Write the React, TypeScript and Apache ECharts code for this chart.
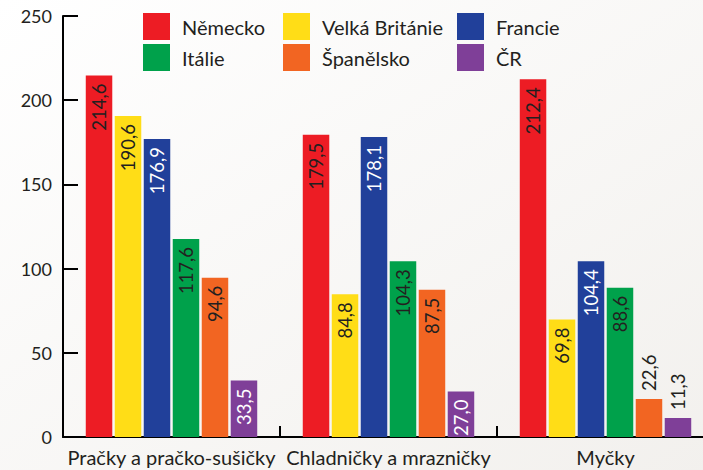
import React, { useEffect, useRef } from "react";
import * as echarts from "echarts";

const categories = ["Pračky a pračko-sušičky", "Chladničky a mrazničky", "Myčky"];
const countries = ["Německo", "Velká Británie", "Francie", "Itálie", "Španělsko", "ČR"];
const colors = ["#ED1C24", "#FFDD17", "#21409A", "#00A14B", "#F26522", "#7F3F98"];
const labelColors = ["#231F20", "#231F20", "#FFFFFF", "#231F20", "#231F20", "#FFFFFF"];
const values: number[][] = [
  [214.6, 179.5, 212.4],
  [190.6, 84.8, 69.8],
  [176.9, 178.1, 104.4],
  [117.6, 104.3, 88.6],
  [94.6, 87.5, 22.6],
  [33.5, 27.0, 11.3],
];
const yTicks = [0, 50, 100, 150, 200, 250];

const FONT = "Lato";

export default function App() {
  const ref = useRef<HTMLDivElement>(null);
  useEffect(() => {
    if (!ref.current) return;
    const chart = echarts.init(ref.current, null, { renderer: "svg" });
    const fmt = (v: number) => v.toFixed(1).replace(".", ",");
    const series = countries.map((name, i) => ({
      name,
      type: "bar",
      barWidth: 26.5,
      barGap: "9.4%",
      itemStyle: { color: colors[i] },
      label: {
        show: true,
        position: "insideTop",
        rotate: 90,
        align: "right",
        verticalAlign: "middle",
        distance: 8,
        fontFamily: FONT,
        fontSize: 18.5,
        color: labelColors[i],
        formatter: (p: any) => fmt(p.value),
      },
      data: values[i].map((v) =>
        v < 25
          ? {
              value: v,
              label: {
                position: "top",
                align: "left",
                verticalAlign: "middle",
                distance: 8,
                color: "#231F20",
              },
            }
          : v
      ),
    }));
    const legendCol = (left: number, names: string[]) => ({
      left,
      top: 13,
      orient: "vertical",
      icon: "rect",
      itemWidth: 27,
      itemHeight: 27,
      itemGap: 4,
      padding: 0,
      selectedMode: false,
      data: names,
      textStyle: { fontFamily: FONT, fontSize: 20, color: "#231F20", padding: [0, 0, 0, 7] },
    });
    chart.setOption({
      animation: false,
      backgroundColor: {
        type: "linear",
        x: 0,
        y: 0,
        x2: 1,
        y2: 1,
        colorStops: [
          { offset: 0, color: "#FFFFFF" },
          { offset: 1, color: "#F2F0ED" },
        ],
      },
      legend: [
        legendCol(143, [countries[0], countries[3]]),
        legendCol(283, [countries[1], countries[4]]),
        legendCol(457, [countries[2], countries[5]]),
      ],
      grid: { left: 63, top: 16, bottom: 33, right: 6, containLabel: false },
      xAxis: {
        type: "category",
        data: categories,
        axisLine: { lineStyle: { color: "#000", width: 2 } },
        axisTick: { show: true, interval: 0, inside: true, length: 11, lineStyle: { color: "#000", width: 2 } },
        axisLabel: { interval: 0, fontFamily: FONT, fontSize: 20, color: "#231F20", margin: 10 },
      },
      yAxis: {
        type: "value",
        min: yTicks[0],
        max: yTicks[yTicks.length - 1],
        interval: 50,
        axisLine: { show: true, lineStyle: { color: "#000", width: 2 } },
        axisTick: { show: true, inside: true, length: 15, lineStyle: { color: "#000", width: 2 } },
        splitLine: { show: false },
        axisLabel: { fontFamily: FONT, fontSize: 18, color: "#231F20", margin: 11 },
      },
      series,
    });
    return () => chart.dispose();
  }, []);
  return (
    <div style={{ position: "absolute", left: 0, top: 0, width: 703, height: 470, overflow: "hidden" }}>
      <div ref={ref} style={{ width: 720, height: 470 }} />
    </div>
  );
}
